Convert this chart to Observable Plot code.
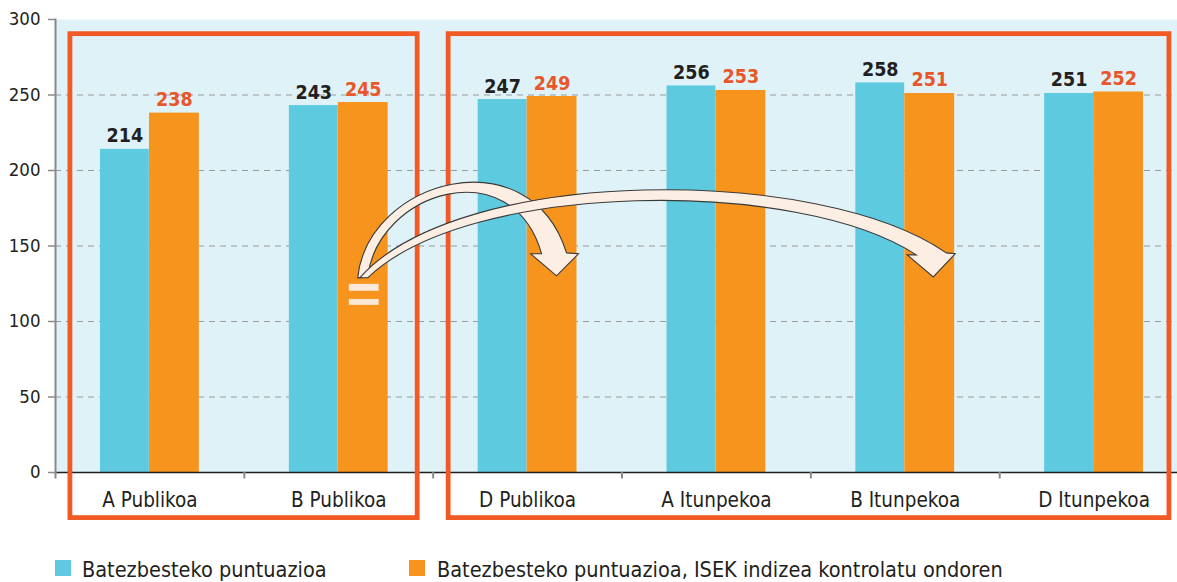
<!DOCTYPE html>
<html>
<head>
<meta charset="utf-8">
<script src="https://cdn.jsdelivr.net/npm/d3@7"></script>
<script src="https://cdn.jsdelivr.net/npm/@observablehq/plot@0.6"></script>
<style>
  html, body { margin: 0; padding: 0; background: #ffffff; }
  #wrap { position: relative; width: 1177px; height: 582px; overflow: hidden; }
  .legend { position: relative; width: 1177px; height: 47px; font-family: "DejaVu Sans Condensed", "Liberation Sans Narrow", sans-serif; font-size: 21.5px; color: #231f20; }
  .legend .sw { position: absolute; top: 25px; width: 16px; height: 16px; }
  .legend .lb { position: absolute; top: 22px; line-height: 25px; white-space: nowrap; }
</style>
</head>
<body>
<div id="wrap"></div>
<script>
// ---- data ----
const categories = ["A Publikoa", "B Publikoa", "D Publikoa", "A Itunpekoa", "B Itunpekoa", "D Itunpekoa"];
const meanScore = [214, 243, 247, 256, 258, 251];
const adjustedScore = [238, 245, 249, 253, 251, 252];
const yTicks = [0, 50, 100, 150, 200, 250, 300];
const gridTicks = [50, 100, 150, 200, 250];
const seriesNames = ["Batezbesteko puntuazioa", "Batezbesteko puntuazioa, ISEK indizea kontrolatu ondoren"];
const seriesColors = ["#5ecae0", "#f7941d"];

const FONT = '"DejaVu Sans Condensed", "Liberation Sans Narrow", sans-serif';
const data = categories.map((c, i) => ({cat: c, mean: meanScore[i], adj: adjustedScore[i]}));

const plot = Plot.plot({
  width: 1177,
  height: 535,
  marginTop: 19,
  marginBottom: 63,
  marginLeft: 55,
  marginRight: 0,
  style: {fontFamily: FONT, background: "#ffffff", color: "#231f20"},
  x: {domain: categories, range: [55, 1188], padding: 0, round: false, axis: null},
  y: {domain: [0, 300], range: [472, 19], axis: null},
  marks: [
    Plot.frame({fill: "#dff2f8", stroke: null}),
    Plot.ruleY(gridTicks, {stroke: "#9a9a9a", strokeWidth: 1.2, strokeDasharray: "6,5"}),
    Plot.barY(data, {x: "cat", y: "mean", fill: seriesColors[0], insetLeft: 45, insetRight: 95}),
    Plot.barY(data, {x: "cat", y: "adj", fill: seriesColors[1], insetLeft: 94, insetRight: 45}),
    Plot.text(data, {x: "cat", y: "mean", text: d => String(d.mean), dx: -25, dy: -7, lineAnchor: "bottom", fontSize: 19.5, fontWeight: "bold", fill: "#231f20"}),
    Plot.text(data, {x: "cat", y: "adj", text: d => String(d.adj), dx: 24.5, dy: -7, lineAnchor: "bottom", fontSize: 19.5, fontWeight: "bold", fill: "#e8562a"}),
    Plot.ruleY([0], {stroke: "#231f20", strokeWidth: 1.5}),
    Plot.frame({anchor: "left", stroke: "#8a8a8a", strokeWidth: 2}),
    Plot.ruleX(categories, {x: d => d, dx: -94.4, y1: 0, y2: -4.3, stroke: "#8a8a8a", strokeWidth: 2}),
    Plot.axisY({ticks: yTicks, tickSize: 7, tickPadding: 8, fontSize: 18.5, stroke: "#8a8a8a", strokeWidth: 1.5, fill: "#231f20", label: null}),
    Plot.axisX({tickSize: 0, tickPadding: 20, fontSize: 20.5, fill: "#231f20", label: null})
  ]
});

// ---- annotations (positions derived from the plot's scales) ----
const sx = plot.scale("x"), sy = plot.scale("y");
const bw = sx.bandwidth;
const x0 = sx.apply(categories[0]);
const P = (u, v) => [x0 + u * bw, sy.apply(v)];
const svg = d3.select(plot);
const ann = svg.append("g");

// group boxes
const boxes = [
  {u1: 0.079, u2: 1.918, v1: 290.3, v2: -30.2},
  {u1: 2.082, u2: 5.899, v1: 290.3, v2: -30.2}
];
for (const b of boxes) {
  const [ax, ay] = P(b.u1, b.v1), [bx, by] = P(b.u2, b.v2);
  ann.append("rect").attr("x", ax).attr("y", ay).attr("width", bx - ax).attr("height", by - ay)
    .attr("fill", "none").attr("stroke", "#f15a24").attr("stroke-width", 4.8);
}

function arrowPath(outer, headR, tip, headL, innerEnd, innerCtrls, innerStart) {
  const f = p => P(p[0], p[1]).join(",");
  return "M" + f(outer[0]) + "C" + f(outer[1]) + " " + f(outer[2]) + " " + f(outer[3]) +
    "L" + f(headR) + "L" + f(tip) + "L" + f(headL) + "L" + f(innerEnd) +
    "C" + f(innerCtrls[0]) + " " + f(innerCtrls[1]) + " " + f(innerStart) + "Z";
}
const arrows = [
  arrowPath([[1.603, 128.6], [1.656, 193.5], [2.513, 223.3], [2.709, 145.1]],
    [2.772, 144.5], [2.656, 129.9], [2.519, 144.5], [2.577, 144.5],
    [[2.418, 213.4], [1.709, 185.6]], [1.656, 129.2]),
  arrowPath([[1.614, 128.6], [2.143, 203.4], [4.048, 203.4], [4.720, 145.1]],
    [4.767, 144.5], [4.651, 129.2], [4.513, 143.8], [4.561, 143.8],
    [[3.942, 194.8], [2.196, 193.5]], [1.656, 128.6])
];
for (const d of arrows) {
  ann.append("path").attr("d", d).attr("fill", "#fdeee3").attr("stroke", "#3a3a3a").attr("stroke-width", 1.1).attr("stroke-linejoin", "miter");
}
// equals sign
for (const [vt, vb] of [[124.6, 120.0], [114.6, 110.7]]) {
  const [ax, ay] = P(1.556, vt), [bx, by] = P(1.714, vb);
  ann.append("rect").attr("x", ax).attr("y", ay).attr("width", bx - ax).attr("height", by - ay).attr("fill", "#fde8d8");
}

const wrap = document.getElementById("wrap");
wrap.appendChild(plot);

// ---- legend ----
const legend = document.createElement("div");
legend.className = "legend";
const legendPos = [[55, 82], [409, 437]];
seriesNames.forEach((name, i) => {
  const sw = document.createElement("div");
  sw.className = "sw"; sw.style.left = legendPos[i][0] + "px"; sw.style.background = seriesColors[i];
  const lb = document.createElement("div");
  lb.className = "lb"; lb.style.left = legendPos[i][1] + "px"; lb.textContent = name;
  legend.appendChild(sw); legend.appendChild(lb);
});
wrap.appendChild(legend);
</script>
</body>
</html>
